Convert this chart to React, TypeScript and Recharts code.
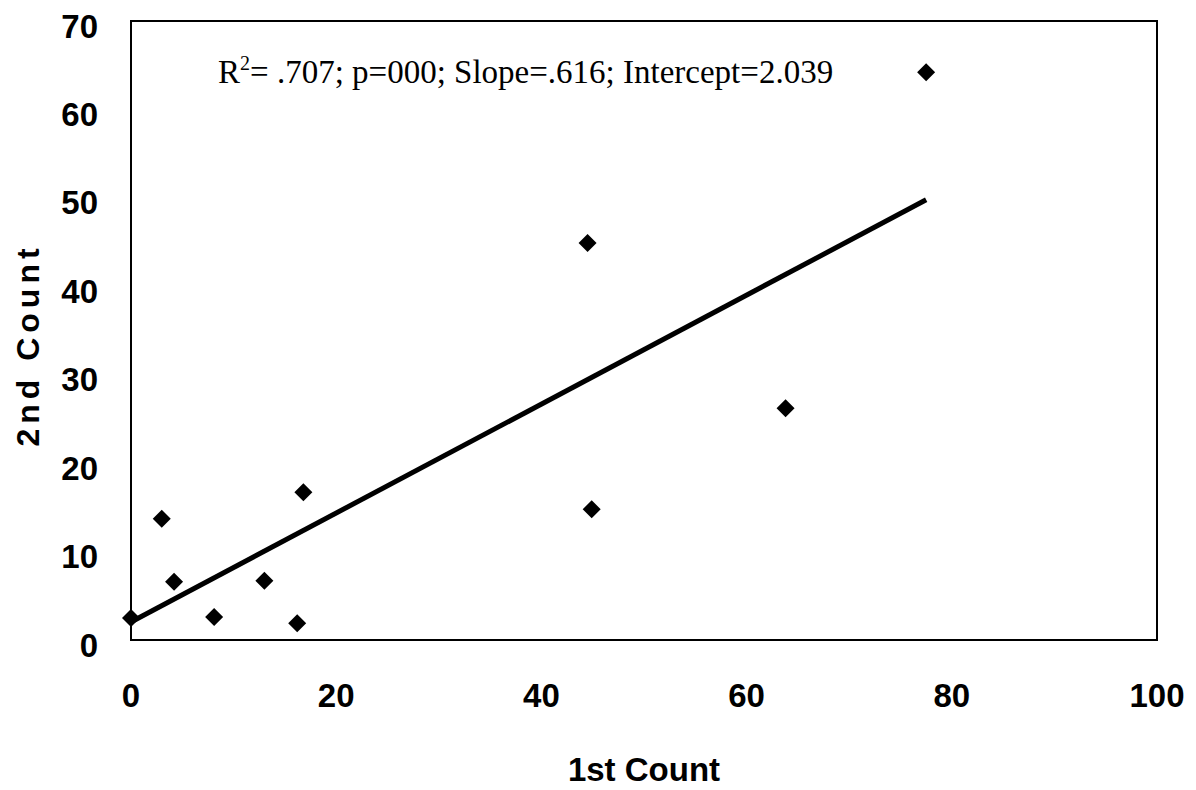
import React from 'react';
import { ScatterChart, Scatter, XAxis, YAxis, ReferenceArea } from 'recharts';

const firstCount = [0, 3, 4.2, 8.1, 13, 16.2, 16.8, 44.5, 44.9, 63.8, 77.5];
const secondCount = [2.5, 13.7, 6.6, 2.6, 6.7, 1.9, 16.7, 44.9, 14.8, 26.2, 64.2];
const fitX = [0, 77.5];
const fitY = [2.039, 49.78];
const xTicks = [0, 20, 40, 60, 80, 100];
const yTicks = [0, 10, 20, 30, 40, 50, 60, 70];
const statsText = '= .707; p=000; Slope=.616; Intercept=2.039';

const points = firstCount.map((x, i) => ({ x, y: secondCount[i] }));
const fitLine = fitX.map((x, i) => ({ x, y: fitY[i] }));

const TICK_FONT = '"Liberation Sans", Arial, sans-serif';

const XTick = (props: any) => {
  const { x, y, payload } = props;
  return (
    <text x={x} y={y + 49} dy="0.35em" textAnchor="middle" fontFamily={TICK_FONT} fontWeight="bold" fontSize={33} fill="#000">
      {payload.value}
    </text>
  );
};

const YTick = (props: any) => {
  const { x, y, payload } = props;
  return (
    <text x={x - 27} y={y + 5} dy="0.35em" textAnchor="end" fontFamily={TICK_FONT} fontWeight="bold" fontSize={33} fill="#000">
      {payload.value}
    </text>
  );
};

const Diamond = (props: any) => {
  const { cx, cy } = props;
  if (cx == null || cy == null) return null;
  const r = 9;
  return <polygon points={`${cx},${cy - r} ${cx + r},${cy} ${cx},${cy + r} ${cx - r},${cy}`} fill="#000" />;
};

const NoShape = () => null;

const XTitle = (props: any) => {
  const vb = props.viewBox || {};
  return (
    <text x={vb.x + vb.width / 2} y={781} textAnchor="middle" fontFamily={TICK_FONT} fontWeight="bold" fontSize={33} fill="#000">
      1st Count
    </text>
  );
};

const YTitle = () => {
  const cx = 28;
  const cy = 345;
  return (
    <text x={cx} y={cy} dy="0.35em" textAnchor="middle" transform={`rotate(-90 ${cx} ${cy})`} fontFamily={TICK_FONT} fontWeight="bold" fontSize={32} letterSpacing={5} fill="#000">
      2nd Count
    </text>
  );
};

export default function App() {
  return (
    <div style={{ position: 'absolute', left: 0, top: 0, width: 1196, height: 790, background: '#fff' }}>
      <ScatterChart width={1196} height={790} margin={{ top: 21, right: 39, bottom: 0, left: 31 }}>
        <XAxis
          type="number"
          dataKey="x"
          domain={[0, 100]}
          ticks={xTicks}
          axisLine={false}
          tickLine={false}
          tickMargin={0}
          height={150}
          tick={<XTick />}
          label={<XTitle />}
        />
        <YAxis
          type="number"
          dataKey="y"
          domain={[0, 70]}
          ticks={yTicks}
          axisLine={false}
          tickLine={false}
          tickMargin={0}
          width={100}
          tick={<YTick />}
          label={<YTitle />}
        />
        <ReferenceArea x1={0} x2={100} y1={0} y2={70} fill="none" fillOpacity={0} stroke="#000" strokeWidth={2} />
        <Scatter data={fitLine} fill="#000" line={{ stroke: '#000', strokeWidth: 5 }} shape={<NoShape />} isAnimationActive={false} />
        <Scatter data={points} fill="#000" shape={<Diamond />} isAnimationActive={false} />
      </ScatterChart>
      <svg width={1196} height={790} style={{ position: 'absolute', left: 0, top: 0, pointerEvents: 'none' }}>
        <text x={218} y={83} fontFamily='"Liberation Serif", "Times New Roman", serif' fontSize={33} fill="#000">
          R
          <tspan fontSize={20} dy={-13}>2</tspan>
          <tspan dy={13}>{statsText}</tspan>
        </text>
      </svg>
    </div>
  );
}
